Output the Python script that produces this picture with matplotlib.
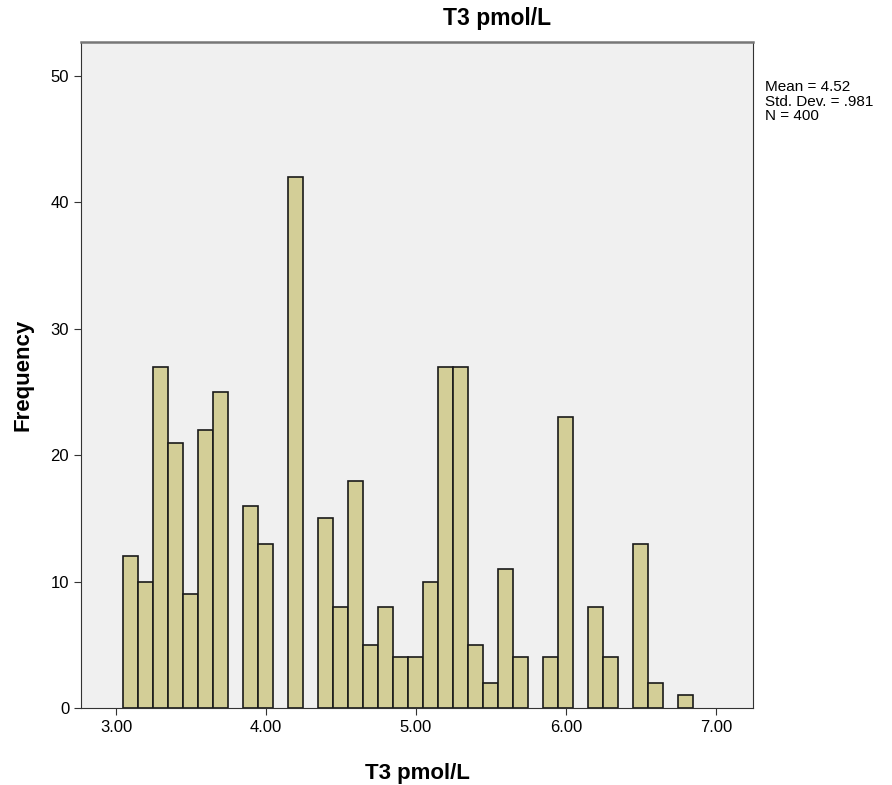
import numpy as np
import matplotlib
matplotlib.use("Agg")
import matplotlib.pyplot as plt

# bin centres (width 0.1) and counts
bin_centers = [3.1, 3.2, 3.3, 3.4, 3.5, 3.6, 3.7, 3.8, 3.9, 4.0,
               4.1, 4.2, 4.3, 4.4, 4.5, 4.6, 4.7, 4.8, 4.9, 5.0,
               5.1, 5.2, 5.3, 5.4, 5.5, 5.6, 5.7, 5.8, 5.9, 6.0,
               6.1, 6.2, 6.3, 6.4, 6.5, 6.6, 6.7, 6.8]
counts = [12, 10, 27, 21, 9, 22, 25, 0, 16, 13,
          0, 42, 0, 15, 8, 18, 5, 8, 4, 4,
          10, 27, 27, 5, 2, 11, 4, 0, 4, 23,
          0, 8, 4, 0, 13, 2, 0, 1]
x_ticks = [3.0, 4.0, 5.0, 6.0, 7.0]
x_labels = ["3.00", "4.00", "5.00", "6.00", "7.00"]
y_ticks = [0, 10, 20, 30, 40, 50]
stats_text = "Mean = 4.52\nStd. Dev. = .981\nN = 400"

plt.rcParams['font.family'] = ['Liberation Sans', 'DejaVu Sans']

fig = plt.figure(figsize=(8.92, 7.85), dpi=100)
ax = fig.add_axes([0.0908, 0.0981, 0.7534, 0.8484])
ax.set_facecolor('#f0f0f0')

# only draw non-empty bins
xs = [c for c, n in zip(bin_centers, counts) if n > 0]
hs = [n for n in counts if n > 0]
ax.bar(xs, hs, width=0.1, color='#d3ce97', edgecolor='#1a1a1a', linewidth=1.2)

ax.set_xlim(2.767, 7.247)
ax.set_ylim(0, 52.7)
ax.set_xticks(x_ticks)
ax.set_xticklabels(x_labels, fontsize=12)
ax.set_yticks(y_ticks)
ax.tick_params(axis='y', labelsize=12)
ax.tick_params(direction='out', length=5, color='#333333')

for side in ['left', 'bottom', 'right']:
    ax.spines[side].set_color('#333333')
ax.spines['top'].set_color('#777777')
ax.spines['top'].set_linewidth(1.8)

fig.text(497 / 892, 1 - 18 / 785, "T3 pmol/L", fontsize=16.5, fontweight='bold',
         ha='center', va='center')
ax.set_xlabel("T3 pmol/L", fontsize=16, fontweight='bold', labelpad=20)
ax.set_ylabel("Frequency", fontsize=16, fontweight='bold', labelpad=12)

fig.text(765 / 892, 1 - 80 / 785, stats_text, fontsize=11, va='top', ha='left',
         linespacing=1.05)

fig.savefig("out.png", dpi=100)
